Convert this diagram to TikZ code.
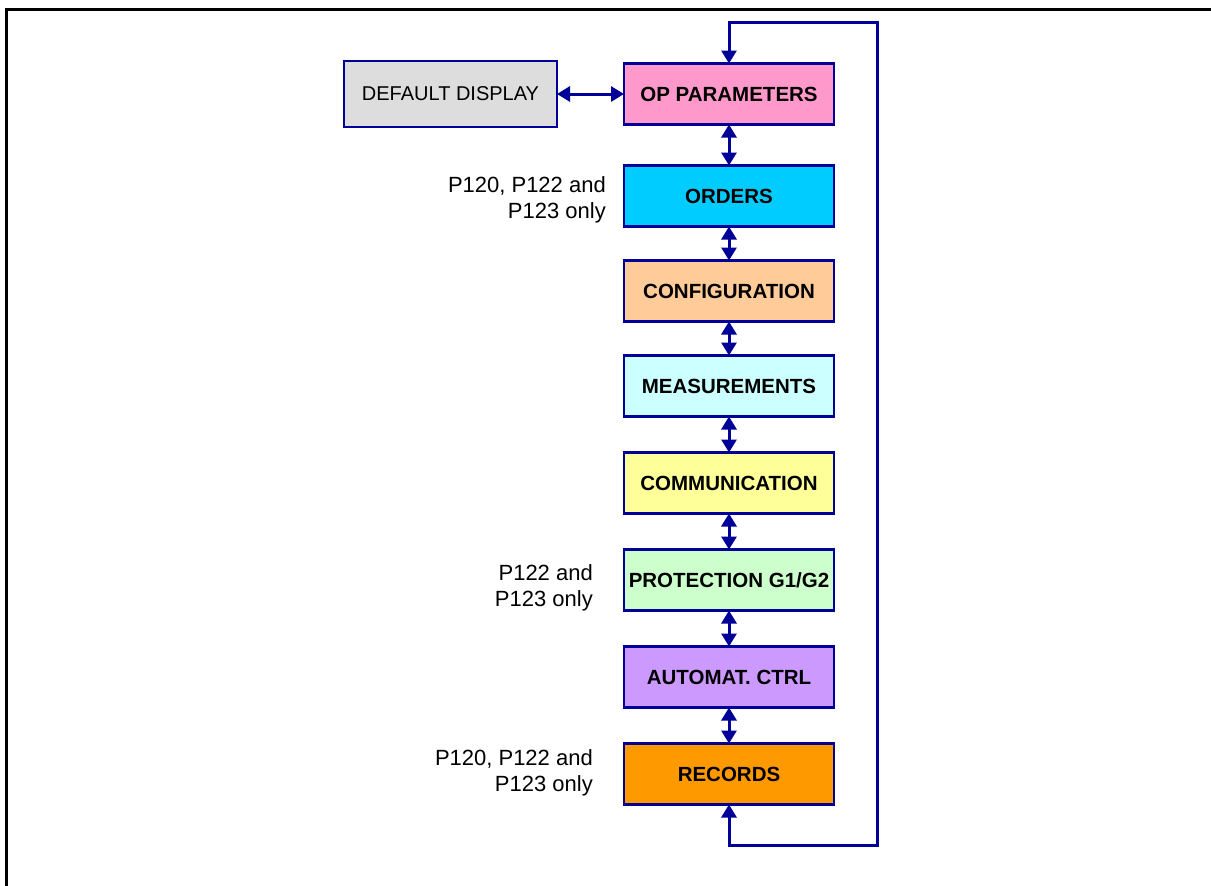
\documentclass[tikz,border=0pt]{standalone}
\usepackage{fontspec}
\setmainfont{Liberation Sans}
\usetikzlibrary{arrows.meta,positioning}
\definecolor{edge}{HTML}{000099}
\definecolor{oppink}{HTML}{FF99CC}
\definecolor{ordcyan}{HTML}{00CCFF}
\definecolor{confpeach}{HTML}{FFCC99}
\definecolor{meascyan}{HTML}{CCFFFF}
\definecolor{commyellow}{HTML}{FFFF99}
\definecolor{protgreen}{HTML}{CCFFCC}
\definecolor{autopurple}{HTML}{CC99FF}
\definecolor{recorange}{HTML}{FF9900}
\definecolor{dispgray}{HTML}{DDDDDD}
\tikzset{
  menubox/.style={draw=edge, line width=2.6pt, minimum width=210pt,
    minimum height=61pt, inner sep=0pt, outer sep=0pt,
    font=\fontsize{20.5}{24}\selectfont\bfseries},
  dispbox/.style={menubox, minimum width=213pt, minimum height=66pt,
    fill=dispgray, font=\fontsize{20}{24}\selectfont},
  note/.style={align=right, inner sep=0pt, font=\fontsize{22}{26}\selectfont},
  arr/.style={{Triangle[length=13pt,width=15pt]}-{Triangle[length=13pt,width=15pt]},
    line width=3pt, draw=edge},
  outline/.style={line width=2.7pt, draw=black}
}
\begin{document}
\begin{tikzpicture}[x=1pt, y=-1pt, node distance=36pt]
        \useasboundingbox (0,0) rectangle (1211,886);
        \draw[outline] (6.5,886) -- (6.5,9.5) -- (1211,9.5);
        \node[menubox, fill=oppink] (op) at (729,94) {OP PARAMETERS};
        \node[menubox, fill=ordcyan, below=41pt of op] (ord) {ORDERS};
        \node[menubox, fill=confpeach, below=34pt of ord] (conf) {CONFIGURATION};
        \node[menubox, fill=meascyan, below=34pt of conf] (meas) {MEASUREMENTS};
        \node[menubox, fill=commyellow, below=of meas] (comm) {COMMUNICATION};
        \node[menubox, fill=protgreen, below=of comm] (prot) {PROTECTION G1/G2};
        \node[menubox, fill=autopurple, below=of prot] (auto) {AUTOMAT. CTRL};
        \node[menubox, fill=recorange, below=of auto] (rec) {RECORDS};
        \node[dispbox, left=67pt of op] (disp) {DEFAULT DISPLAY};
        \node[note, left=18pt of ord, yshift=-4pt] (ordnote) {P120, P122 and\\P123 only};
        \node[note, left=31pt of prot, yshift=-8pt] (protnote) {P122 and\\P123 only};
        \node[note, left=31pt of rec, yshift=1pt] (recnote) {P120, P122 and\\P123 only};
        \coordinate (loopbot) at (877,845);
        \coordinate (looptop) at (877,22);
        \draw[arr] (disp) -- (op);
        \draw[arr] (op) -- (ord);
        \draw[arr] (ord) -- (conf);
        \draw[arr] (conf) -- (meas);
        \draw[arr] (meas) -- (comm);
        \draw[arr] (comm) -- (prot);
        \draw[arr] (prot) -- (auto);
        \draw[arr] (auto) -- (rec);
        \draw[arr] (rec.south) |- (loopbot) -- (looptop) -| (op.north);
      \end{tikzpicture}
\end{document}
